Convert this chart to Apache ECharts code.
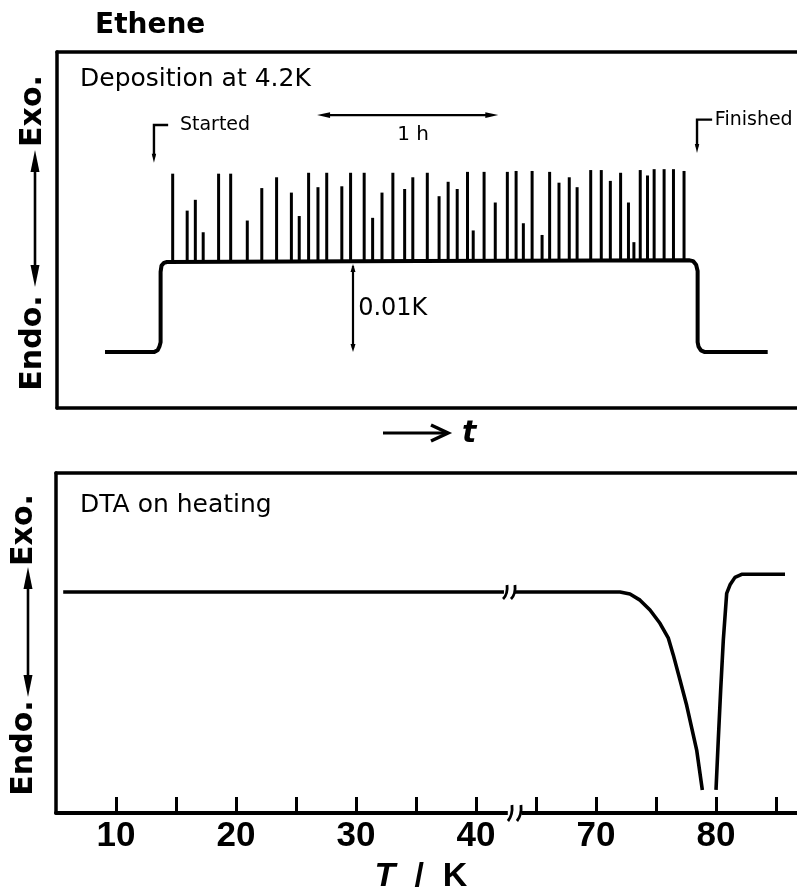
<!DOCTYPE html>
<html><head><meta charset="utf-8">
<script src="https://cdn.jsdelivr.net/npm/echarts@6/dist/echarts.min.js"></script>
<style>html,body{margin:0;padding:0;background:#fff}#c{width:797px;height:892px}</style>
</head><body><div id="c"></div><script>
// ---------- DATA ----------
// Top panel: deposition at 4.2 K (time in minutes, signal in mK)
const spikeTime = [38.3,43.1,45.8,48.4,53.5,57.5,63.0,67.8,72.7,77.6,80.2,83.3,86.4,89.3,94.3,97.2,101.7,104.5,107.6,111.2,115.1,117.8,122.6,126.5,129.5,132.5,135.9,137.8,141.4,145.1,149.1,152.0,154.4,157.3,160.6,163.1,166.2,169.6,172.2,176.7,180.2,183.2,186.6,189.2,191.0,193.1,195.5,197.7,201.0,204.1,207.6];
const spikePeak = [19.8,15.7,16.9,13.3,19.8,19.8,14.6,18.2,19.4,17.7,15.1,19.9,18.3,19.9,18.4,19.9,19.9,14.9,17.7,19.9,18.1,19.4,19.9,17.3,18.9,18.1,20.0,13.5,20.0,16.6,20.0,20.1,14.3,20.1,13.0,20.0,18.8,19.4,18.3,20.2,20.2,19.0,19.9,16.6,12.2,20.2,19.6,20.3,20.3,20.3,20.1];
const traceTime   = [15.9, 32.1, 33.3, 33.9, 34.3, 34.3, 34.6, 35.4, 36.4, 120.0, 209.2, 210.6, 211.6, 212.1, 212.1, 212.4, 213.2, 214.5, 235.3];
const traceSignal = [0, 0, 0.2, 0.6, 1.1, 8.9, 9.6, 9.9, 10.0, 10.1, 10.2, 10.1, 9.7, 9.0, 1.1, 0.6, 0.2, 0, 0];
const plateau = 10;            // mK level of the deposition plateau
const scaleBar = [0, 10];      // 0.01 K
const hourBar = [86.1, 146.1]; // 1 h
const startedTime = 32.1, finishedTime = 211.9;

// Bottom panel: DTA on heating (T in K, signal arbitrary)
const dtaTemp   = [5.6, 42.33, null, 63.17, 72.0, 72.83, 73.67, 74.5, 75.33, 76.03, 76.44, 77.0, 77.56, 78.39, 78.86, null, 80.0, 80.19, 80.39, 80.61, 80.89, 81.17, 81.58, 82.14, 85.75];
const dtaSignal = [65, 65, null, 65, 65, 64.4, 62.6, 59.7, 55.8, 51.4, 46.5, 39.1, 31.6, 18.5, 6.8, null, 6.8, 21.5, 36.2, 50.9, 64.6, 67.1, 69.3, 70.2, 70.2];
const tempTickLabels = [10, 20, 30, 40, 70, 80];
const breakFrom = 45, breakTo = 65; // omitted temperature range

// ---------- HELPERS ----------
const BLACK = '#000';
const FONT = 'DejaVu Sans';
const NUMFONT = 'Liberation Sans';
const gap = breakTo - breakFrom;
const toAxisT = T => (T <= breakFrom ? T : T - gap);
const fromAxisT = u => (u <= breakFrom ? u : u + gap);
const AXIS_BREAK_U = 43.25;

function head(tip, dir, len, hw) {
  const bx = tip[0] - dir[0] * len, by = tip[1] - dir[1] * len;
  const nx = -dir[1], ny = dir[0];
  return { type: 'polygon', shape: { points: [tip, [bx + nx * hw, by + ny * hw], [bx - nx * hw, by - ny * hw]] }, style: { fill: BLACK } };
}
function seg(a, b, w) {
  return { type: 'line', shape: { x1: a[0], y1: a[1], x2: b[0], y2: b[1] }, style: { stroke: BLACK, lineWidth: w } };
}
function txt(text, x, y, size, opts) {
  return { type: 'text', x: x, y: y, style: Object.assign({ text: text, fill: BLACK, fontSize: size, fontFamily: FONT, align: 'left', verticalAlign: 'middle' }, opts || {}) };
}
function vLabel(text, cx, cy) {
  return { type: 'text', x: cx, y: cy, rotation: Math.PI / 2, style: { text: text, fill: BLACK, fontSize: 30, fontWeight: 'bold', fontFamily: FONT, align: 'center', verticalAlign: 'middle' } };
}
function vDoubleArrow(x, y1, y2) {
  return [seg([x, y1 + 16], [x, y2 - 16], 2.6), head([x, y1], [0, -1], 22, 4.5), head([x, y2], [0, 1], 22, 4.5)];
}

const axisLineOnly = (grid, pos, min, max, w) => ({
  gridIndex: grid, type: 'value', position: pos, min: min, max: max,
  axisLine: { show: true, onZero: false, lineStyle: { color: BLACK, width: w } },
  axisTick: { show: false }, axisLabel: { show: false }, splitLine: { show: false }
});

// ---------- CHART ----------
const chart = echarts.init(document.getElementById('c'));
const option = {
  backgroundColor: '#fff',
  animation: false,
  grid: [
    { left: 57, right: 0, top: 52, height: 356 },
    { left: 56, right: 0, top: 473, height: 340 }
  ],
  xAxis: [
    axisLineOnly(0, 'bottom', 0, 245, 3.5),
    axisLineOnly(0, 'top', 0, 245, 3.5),
    {
      gridIndex: 1, type: 'value', position: 'bottom', min: 5, max: 66.75, interval: 5,
      axisLine: { show: true, onZero: false, lineStyle: { color: BLACK, width: 4 } },
      axisTick: { show: true, inside: true, length: 16, lineStyle: { color: BLACK, width: 3 } },
      axisLabel: {
        color: BLACK, fontFamily: NUMFONT, fontWeight: 'bold', fontSize: 35, margin: 6,
        showMinLabel: false, showMaxLabel: false,
        formatter: v => { const T = Math.round(fromAxisT(v)); return tempTickLabels.indexOf(T) >= 0 ? String(T) : ''; }
      },
      splitLine: { show: false }
    },
    axisLineOnly(1, 'top', 5, 66.75, 3.5)
  ],
  yAxis: [
    axisLineOnly(0, 'left', -6.2, 33.3, 3.5),
    axisLineOnly(1, 'left', 0, 100, 3.5)
  ],
  graphic: [
    txt('Ethene', 95, 26, 28, { fontWeight: 'bold' }),
    txt('Deposition at 4.2K', 80, 79, 25),
    txt('DTA on heating', 80, 505, 25),
    vLabel('Exo.', 33, 111), vLabel('Endo.', 33, 343),
    ...vDoubleArrow(35, 150, 287),
    vLabel('Exo.', 24, 530), vLabel('Endo.', 24, 748),
    ...vDoubleArrow(28, 567, 697),
    seg([383, 433], [446, 433], 3.2),
    { type: 'polyline', shape: { points: [[431, 425], [448, 433], [431, 441]] }, style: { stroke: BLACK, lineWidth: 3.5, fill: null } },
    txt('t', 462, 434, 30, { fontWeight: 'bold', fontStyle: 'italic' }),
    {
      type: 'text', x: 421, y: 877,
      style: {
        text: '{i|T}{s|/}{k|K}', align: 'center', verticalAlign: 'middle', fill: BLACK,
        rich: {
          i: { fontFamily: NUMFONT, fontWeight: 'bold', fontStyle: 'italic', fontSize: 34, fill: BLACK },
          s: { fontFamily: NUMFONT, fontWeight: 'bold', fontSize: 34, fill: BLACK, padding: [0, 19] },
          k: { fontFamily: NUMFONT, fontWeight: 'bold', fontSize: 34, fill: BLACK }
        }
      }
    }
  ],
  series: [
    {
      type: 'line', xAxisIndex: 0, yAxisIndex: 0, symbol: 'none', z: 3,
      lineStyle: { color: BLACK, width: 4 },
      data: traceTime.map((t, i) => [t, traceSignal[i]])
    },
    {
      type: 'custom', xAxisIndex: 0, yAxisIndex: 0, z: 3,
      data: spikeTime.map((t, i) => [t, spikePeak[i]]),
      renderItem: (params, api) => {
        const t = api.value(0), top = api.value(1);
        const p0 = api.coord([t, plateau]), p1 = api.coord([t, top]);
        return seg(p0, p1, 3);
      }
    },
    {
      type: 'custom', xAxisIndex: 0, yAxisIndex: 0, z: 4, clip: false,
      data: [[0, 0]],
      renderItem: (params, api) => {
        const c = p => api.coord(p);
        const kids = [];
        // 1 h double arrow
        const h1 = c([hourBar[0], 26.3]), h2 = c([hourBar[1], 26.3]);
        kids.push(seg([h1[0] + 8, h1[1]], [h2[0] - 8, h2[1]], 2.2));
        kids.push(head(h1, [-1, 0], 13, 2.8), head(h2, [1, 0], 13, 2.8));
        const hl = c([117.9, 24.1]);
        kids.push(txt('1 h', hl[0], hl[1], 20, { align: 'center' }));
        // 0.01 K scale bar
        const s1 = c([98.0, scaleBar[1]]), s2 = c([98.0, scaleBar[0]]);
        kids.push(seg([s1[0], s1[1] + 4], [s2[0], s2[1] - 4], 2.2));
        kids.push(head([s1[0], s1[1] + 2], [0, -1], 8, 2.5), head(s2, [0, 1], 8, 2.5));
        const sl = c([99.7, 4.8]);
        kids.push(txt('0.01K', sl[0], sl[1], 24));
        // Started
        const a1 = c([startedTime + 4.7, 25.2]), a2 = c([startedTime, 25.2]), a3 = c([startedTime, 21.0]);
        kids.push({ type: 'polyline', shape: { points: [a1, a2, [a3[0], a3[1] - 6]] }, style: { stroke: BLACK, lineWidth: 2.4, fill: null } });
        kids.push(head(a3, [0, 1], 9, 2.2));
        const stl = c([40.7, 25.2]);
        kids.push(txt('Started', stl[0], stl[1], 19));
        // Finished
        const f1 = c([finishedTime + 5.0, 25.8]), f2 = c([finishedTime, 25.8]), f3 = c([finishedTime, 22.1]);
        kids.push({ type: 'polyline', shape: { points: [f1, f2, [f3[0], f3[1] - 6]] }, style: { stroke: BLACK, lineWidth: 2.4, fill: null } });
        kids.push(head(f3, [0, 1], 9, 2.2));
        const fl = c([217.8, 25.8]);
        kids.push(txt('Finished', fl[0], fl[1], 19));
        return { type: 'group', children: kids };
      }
    },
    {
      type: 'line', xAxisIndex: 2, yAxisIndex: 1, symbol: 'none', z: 3, connectNulls: false,
      lineStyle: { color: BLACK, width: 3.6 },
      data: dtaTemp.map((T, i) => (T === null ? [NaN, NaN] : [toAxisT(T), dtaSignal[i]]))
    },
    {
      type: 'custom', xAxisIndex: 2, yAxisIndex: 1, z: 5, clip: false,
      data: [[AXIS_BREAK_U, 0]],
      renderItem: (params, api) => {
        const u = api.value(0);
        const kids = [];
        const ax = api.coord([u, 0]);
        const ua = api.coord([u - 0.6, 0]), ub = api.coord([u + 0.55, 0]);
        kids.push({ type: 'rect', shape: { x: ua[0], y: ax[1] - 4, width: ub[0] - ua[0], height: 8 }, style: { fill: '#fff' } });
        const mark = (p, h) => ({ type: 'bezierCurve', shape: { x1: p[0] - 2, y1: p[1] + h, x2: p[0] + 2, y2: p[1] - h, cpx1: p[0] + 3, cpy1: p[1] + 2 }, style: { stroke: BLACK, lineWidth: 2.8, fill: null } });
        kids.push(mark(api.coord([u - 0.42, 0]), 8), mark(api.coord([u + 0.33, 0]), 8));
        kids.push(mark(api.coord([u - 0.83, 65]), 7), mark(api.coord([u - 0.17, 65]), 7));
        return { type: 'group', children: kids };
      }
    }
  ]
};
chart.setOption(option);
</script></body></html>
